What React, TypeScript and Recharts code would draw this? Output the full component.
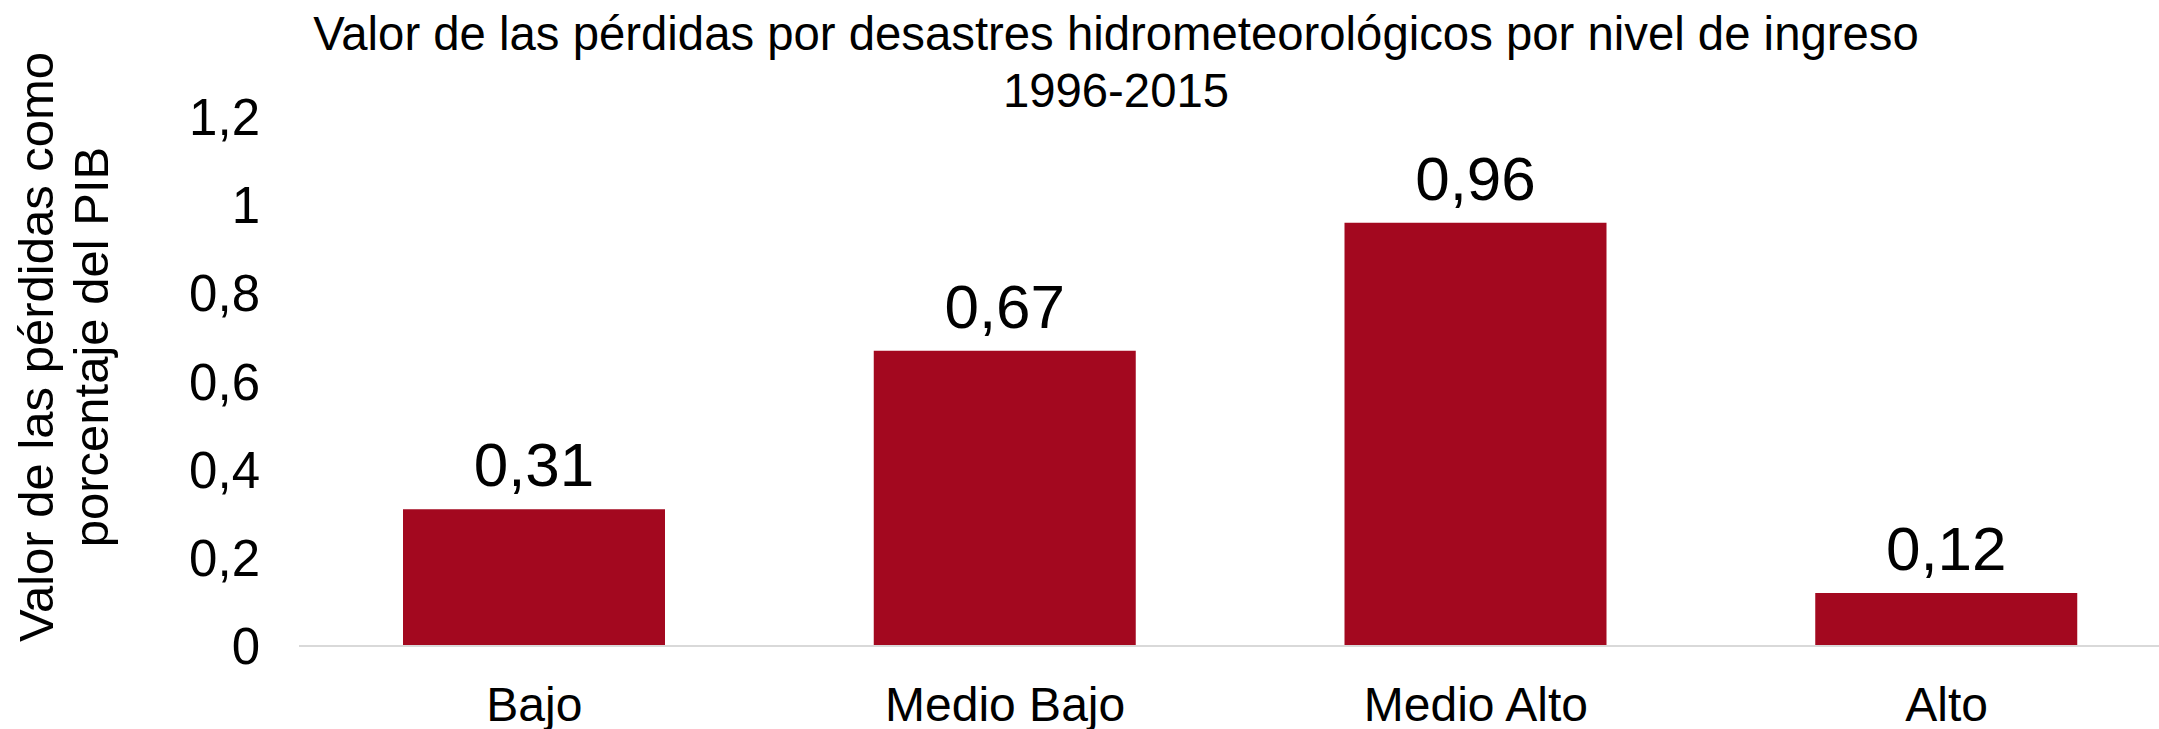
import React from 'react';
import { BarChart, Bar, XAxis, YAxis, LabelList } from 'recharts';

const categories = ['Bajo', 'Medio Bajo', 'Medio Alto', 'Alto'];
const values = [0.31, 0.67, 0.96, 0.12];
const yTicks = [0, 0.2, 0.4, 0.6, 0.8, 1, 1.2];
const titleLines = ['Valor de las pérdidas por desastres hidrometeorológicos por nivel de ingreso', '1996-2015'];
const yTitleLines = ['Valor de las pérdidas como', 'porcentaje del PIB'];

const data = categories.map((c, i) => ({ name: c, value: values[i] }));
const FONT = '"Liberation Sans", Arial, sans-serif';
const fmt = (v: number) => String(v).replace('.', ',');

const YTitle = () => (
  <g>
    <text x={53} y={347} transform="rotate(-90 53 347)" textAnchor="middle" fontSize={49} fontFamily={FONT} fill="#000">
      {yTitleLines[0]}
    </text>
    <text x={108} y={347} transform="rotate(-90 108 347)" textAnchor="middle" fontSize={49} fontFamily={FONT} fill="#000">
      {yTitleLines[1]}
    </text>
  </g>
);

export default function App() {
  return (
    <div style={{ position: 'absolute', left: 0, top: 0, width: 2159, height: 729, overflow: 'hidden', background: '#fff' }}>
      <div
        style={{
          position: 'absolute',
          left: 1116,
          top: 5,
          transform: 'translateX(-50%)',
          whiteSpace: 'nowrap',
          textAlign: 'center',
          fontFamily: FONT,
          fontSize: 47.3,
          lineHeight: '57px',
          color: '#000',
        }}
      >
        {titleLines.map((l) => (
          <div key={l}>{l}</div>
        ))}
      </div>
      <BarChart width={2182} height={729} data={data} margin={{ top: 117, right: 0, bottom: 0, left: 0 }}>
        <XAxis
          dataKey="name"
          height={83}
          axisLine={{ stroke: '#d9d9d9', strokeWidth: 2 }}
          tickLine={false}
          tickSize={0}
          tickMargin={41}
          tick={{ fontSize: 48, fontFamily: FONT, fill: '#000' }}
          interval={0}
        />
        <YAxis
          width={299}
          domain={[0, 1.2]}
          ticks={yTicks}
          axisLine={false}
          tickLine={false}
          tickSize={0}
          tickMargin={39}
          tickFormatter={fmt}
          tick={{ fontSize: 51, fontFamily: FONT, fill: '#000' }}
          label={{ content: () => <YTitle /> }}
        />
        <Bar dataKey="value" fill="#A3081F" barSize={262} isAnimationActive={false}>
          <LabelList
            dataKey="value"
            position="top"
            offset={23}
            formatter={(v: any) => fmt(v)}
            style={{ fontSize: 62, fontFamily: FONT, fill: '#000' }}
          />
        </Bar>
      </BarChart>
    </div>
  );
}
